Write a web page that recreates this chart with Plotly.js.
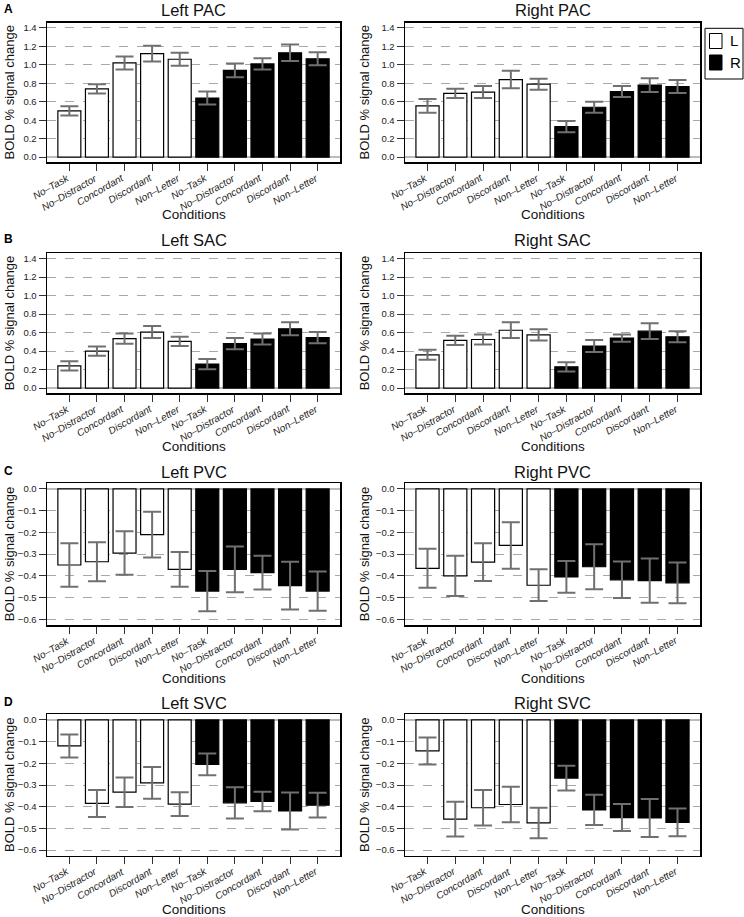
<!DOCTYPE html>
<html>
<head>
<meta charset="utf-8">
<script src="https://cdn.plot.ly/plotly-3.0.1.min.js"></script>
<style>
  body { margin: 0; background: #fff; }
  #chart { width: 744px; height: 917px; }
</style>
</head>
<body>
<div id="chart"></div>
<script>
"use strict";

// Conditions, drawn once for the L bars and once again for the R bars
var conditions = ["No–Task", "No–Distractor", "Concordant", "Discordant", "Non–Letter"]
var sides = ["L", "R"]
var sideColors = ["#ffffff", "#000000"]
var panelTitles = ["Left PAC", "Right PAC", "Left SAC", "Right SAC",
                   "Left PVC", "Right PVC", "Left SVC", "Right SVC"]
var panelLetters = ["A", "B", "C", "D"]

// BOLD % signal change: 5 L conditions, then 5 R conditions
var leftPacMean  = [0.50, 0.74, 1.02, 1.12, 1.06, 0.64, 0.94, 1.01, 1.13, 1.065]
var leftPacErr   = [0.05, 0.05, 0.07, 0.085, 0.07, 0.07, 0.075, 0.06, 0.09, 0.07]
var rightPacMean = [0.555, 0.69, 0.705, 0.84, 0.79, 0.33, 0.54, 0.71, 0.78, 0.765]
var rightPacErr  = [0.075, 0.05, 0.065, 0.095, 0.06, 0.06, 0.06, 0.06, 0.075, 0.07]

var leftSacMean  = [0.24, 0.40, 0.535, 0.605, 0.505, 0.26, 0.48, 0.53, 0.64, 0.545]
var leftSacErr   = [0.05, 0.05, 0.055, 0.065, 0.05, 0.055, 0.06, 0.06, 0.07, 0.06]
var rightSacMean = [0.36, 0.515, 0.525, 0.625, 0.575, 0.23, 0.455, 0.54, 0.615, 0.555]
var rightSacErr  = [0.055, 0.05, 0.055, 0.085, 0.06, 0.05, 0.065, 0.04, 0.085, 0.06]

var leftPvcMean  = [-0.35, -0.335, -0.295, -0.21, -0.37, -0.47, -0.37, -0.385, -0.445, -0.47]
var leftPvcErr   = [0.10, 0.09, 0.10, 0.105, 0.08, 0.093, 0.105, 0.078, 0.11, 0.09]
var rightPvcMean = [-0.365, -0.40, -0.337, -0.26, -0.443, -0.405, -0.358, -0.418, -0.422, -0.432]
var rightPvcErr  = [0.09, 0.093, 0.087, 0.107, 0.073, 0.073, 0.104, 0.084, 0.102, 0.094]

var leftSvcMean  = [-0.12, -0.385, -0.333, -0.29, -0.388, -0.205, -0.382, -0.376, -0.42, -0.393]
var leftSvcErr   = [0.053, 0.062, 0.068, 0.073, 0.055, 0.05, 0.072, 0.045, 0.085, 0.057]
var rightSvcMean = [-0.143, -0.457, -0.405, -0.39, -0.475, -0.268, -0.415, -0.45, -0.452, -0.472]
var rightSvcErr  = [0.062, 0.08, 0.082, 0.082, 0.07, 0.057, 0.07, 0.062, 0.088, 0.064]

var panelMeans = [leftPacMean, rightPacMean, leftSacMean, rightSacMean,
                  leftPvcMean, rightPvcMean, leftSvcMean, rightSvcMean]
var panelErrs = [leftPacErr, rightPacErr, leftSacErr, rightSacErr,
                 leftPvcErr, rightPvcErr, leftSvcErr, rightSvcErr]

// Page geometry in pixels
var W = 744, H = 917
var colLeft = [47, 405], colRight = [340, 700]
var rowTop = [22.7, 253.3, 483.3, 714.3], rowBottom = [162.3, 393.3, 625, 855.7]
var titleY = [10, 240, 472, 703]
var condY = [215, 447, 678, 909]
var yTitleX = [9, 364]

function px(x){ return x / W }
function py(y){ return 1 - y / H }

var font = "Liberation Sans, Arial, Helvetica, sans-serif"
var n = conditions.length
var tickText = conditions.concat(conditions)
var tickVals = tickText.map(function(_, i){ return i })

var traces = []
var layout = {
  width: W, height: H, autosize: false,
  margin: {l: 0, r: 0, t: 0, b: 0},
  paper_bgcolor: "#fff", plot_bgcolor: "#fff",
  font: {family: font, color: "#222"},
  barmode: "overlay",
  showlegend: false,
  annotations: [],
  shapes: []
}

panelTitles.forEach(function(title, p){
  var row = Math.floor(p / 2), col = p % 2
  var id = p === 0 ? "" : String(p + 1)
  var positive = row < 2

  sides.forEach(function(side, s){
    var idx = tickVals.slice(s * n, s * n + n)
    traces.push({
      type: "bar",
      name: side,
      x: idx,
      y: idx.map(function(i){ return panelMeans[p][i] }),
      width: 0.833,
      xaxis: "x" + id, yaxis: "y" + id,
      marker: {color: sideColors[s], line: {color: "#000", width: 1.2}},
      error_y: {
        type: "data",
        array: idx.map(function(i){ return panelErrs[p][i] }),
        color: "#707070", thickness: 2, width: 9
      },
      hoverinfo: "x+y"
    })
  })

  layout["xaxis" + id] = {
    domain: [px(colLeft[col]), px(colRight[col])],
    anchor: "y" + id,
    range: [-0.81, 9.81],
    tickvals: tickVals,
    showticklabels: false,
    ticks: "outside", ticklen: 7, tickcolor: "#333", tickwidth: 1,
    showline: true, mirror: true, linecolor: "#000", linewidth: 1.5,
    showgrid: false, zeroline: false, fixedrange: true
  }
  layout["yaxis" + id] = {
    domain: [py(rowBottom[row]), py(rowTop[row])],
    anchor: "x" + id,
    range: positive ? [-0.056, 1.456] : [-0.626, 0.026],
    dtick: positive ? 0.2 : 0.1, tick0: 0,
    tickformat: ".1f",
    tickfont: {size: 9.5, family: font, color: "#222"},
    ticks: "outside", ticklen: 7, tickcolor: "#333", tickwidth: 1,
    showline: true, mirror: true, linecolor: "#000", linewidth: 1.5,
    showgrid: true, gridcolor: "#a8a8a8", griddash: "dash", gridwidth: 1,
    zeroline: true, zerolinecolor: "#bbbbbb", zerolinewidth: 1.5,
    fixedrange: true
  }

  // Slanted category labels: the end of each label sits under its tick
  tickText.forEach(function(label, i){
    layout.annotations.push({
      text: "<i>" + label + "</i>", xref: "x" + id, yref: "paper",
      x: tickVals[i], y: py(rowBottom[row] + 9.5),
      xanchor: "right", yanchor: "top", xshift: 2, textangle: -30,
      borderpad: 0, borderwidth: 0,
      showarrow: false, font: {size: 10, family: font, color: "#222"}
    })
  })

  var cx = px((colLeft[col] + colRight[col]) / 2)
  layout.annotations.push({
    text: title, xref: "paper", yref: "paper",
    x: cx, y: py(titleY[row]), xanchor: "center", yanchor: "middle",
    showarrow: false, font: {size: 16.5, family: font, color: "#111"}
  })
  layout.annotations.push({
    text: "Conditions", xref: "paper", yref: "paper",
    x: cx, y: py(condY[row]), xanchor: "center", yanchor: "middle",
    showarrow: false, font: {size: 13.5, family: font, color: "#111"}
  })
  layout.annotations.push({
    text: "BOLD % signal change", xref: "paper", yref: "paper",
    x: px(yTitleX[col]), y: py((rowTop[row] + rowBottom[row]) / 2),
    xanchor: "center", yanchor: "middle", textangle: -90,
    showarrow: false, font: {size: 13, family: font, color: "#111"}
  })
})

panelLetters.forEach(function(letter, r){
  layout.annotations.push({
    text: "<b>" + letter + "</b>", xref: "paper", yref: "paper",
    x: px(2), y: py(titleY[r] - 1), xanchor: "left", yanchor: "middle",
    showarrow: false, font: {size: 12, family: font, color: "#000"}
  })
})

// Legend box, drawn by hand so it fits in the narrow right margin
layout.shapes.push({
  type: "rect", xref: "paper", yref: "paper",
  x0: px(705), x1: px(743), y0: py(28.3), y1: py(79),
  line: {color: "#000", width: 1}, fillcolor: "#fff"
})
sides.forEach(function(side, s){
  var top = 33.5 + s * 21.5
  layout.shapes.push({
    type: "rect", xref: "paper", yref: "paper",
    x0: px(709.5), x1: px(722), y0: py(top), y1: py(top + 15),
    line: {color: "#000", width: 1}, fillcolor: sideColors[s]
  })
  layout.annotations.push({
    text: side, xref: "paper", yref: "paper",
    x: px(728), y: py(top + 7.5), xanchor: "left", yanchor: "middle",
    showarrow: false, font: {size: 15, family: font, color: "#000"}
  })
})

Plotly.newPlot("chart", traces, layout, {displayModeBar: false, staticPlot: true})
</script>
</body>
</html>
